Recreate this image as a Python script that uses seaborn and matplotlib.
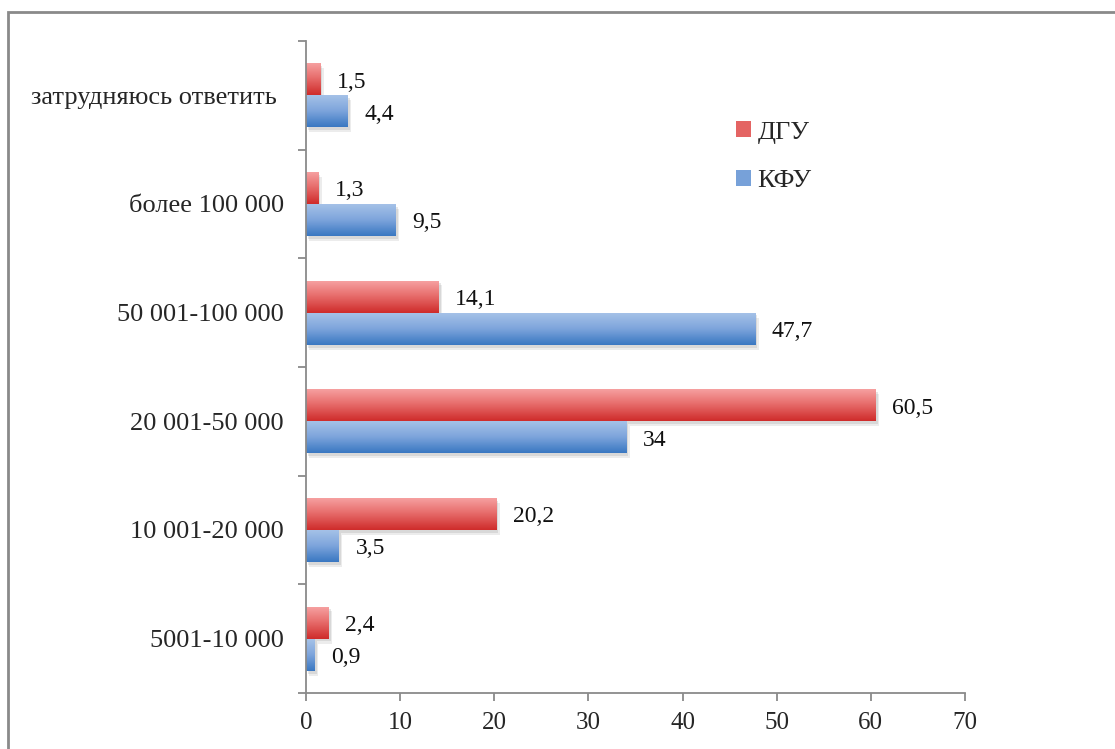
import numpy as np
import pandas as pd
import matplotlib
matplotlib.use("Agg")
import matplotlib.pyplot as plt
import matplotlib.patheffects as pe
from matplotlib.patches import Rectangle
from matplotlib.colors import LinearSegmentedColormap
import seaborn as sns

# Income groups (top to bottom) and shares per university, %
categories = ["затрудняюсь ответить ", "более 100 000", "50 001-100 000",
              "20 001-50 000", "10 001-20 000", "5001-10 000"]
dgu = [1.5, 1.3, 14.1, 60.5, 20.2, 2.4]
kfu = [4.4, 9.5, 47.7, 34, 3.5, 0.9]
series = ["ДГУ", "КФУ"]
value_labels_dgu = ["1,5", "1,3", "14,1", "60,5", "20,2", "2,4"]
value_labels_kfu = ["4,4", "9,5", "47,7", "34", "3,5", "0,9"]
xticks = [0, 10, 20, 30, 40, 50, 60, 70]

df = pd.DataFrame({
    "cat": categories * 2,
    "val": dgu + kfu,
    "uni": [series[0]] * len(categories) + [series[1]] * len(categories),
})

sns.set_theme(style="white")
plt.rcParams["font.family"] = ["Liberation Serif", "DejaVu Serif"]

fig = plt.figure(figsize=(11.15, 7.49), dpi=100)
ax = fig.add_axes([306 / 1115, 1 - 693 / 749, (965 - 306) / 1115, (693 - 41) / 749])

base = {"ДГУ": "#d9403f", "КФУ": "#4a7fc4"}
sns.barplot(data=df, y="cat", x="val", hue="uni", order=categories,
            hue_order=series, palette=base, orient="h", width=0.59,
            ax=ax, legend=False, saturation=1)

grad = {
    "ДГУ": LinearSegmentedColormap.from_list("r", ["#f7a3a3", "#e66a69", "#cf2c2b"]),
    "КФУ": LinearSegmentedColormap.from_list("b", ["#a7c3e8", "#7ea5dc", "#3a78c2"]),
}

n = len(categories)
patches = list(ax.patches)
gradient = np.linspace(0, 1, 64).reshape(-1, 1)
for i, p in enumerate(patches):
    uni = series[i // n]
    p.set_edgecolor("none")
    p.set_path_effects([
        pe.SimplePatchShadow(offset=(2.5, -3.5), shadow_rgbFace="#999999", alpha=0.18),
        pe.SimplePatchShadow(offset=(1.5, -2), shadow_rgbFace="#888888", alpha=0.2),
        pe.Normal()])
    x0, y0, w, h = p.get_x(), p.get_y(), p.get_width(), p.get_height()
    im = ax.imshow(gradient, cmap=grad[uni], aspect="auto",
                   extent=(x0, x0 + w, y0 + h, y0), origin="upper",
                   zorder=p.get_zorder() + 0.1)
    im.set_clip_path(p)

ax.set_xlim(0, 70)
ax.set_ylim(n - 0.5, -0.5)

# value labels to the right of each bar
for i, p in enumerate(patches):
    txt = (value_labels_dgu + value_labels_kfu)[i]
    ax.annotate(txt, (p.get_x() + p.get_width(), p.get_y() + p.get_height() / 2),
                xytext=(12, -2), textcoords="offset points", ha="left", va="center",
                fontsize=17, color="#111111")

# axes styling
for s in ["top", "right"]:
    ax.spines[s].set_visible(False)
for s in ["left", "bottom"]:
    ax.spines[s].set_color("#8a8a8a")
    ax.spines[s].set_linewidth(1.3)

ax.set_xticks(xticks)
ax.set_xticklabels([str(t) for t in xticks], fontsize=18)
ax.set_yticks(np.arange(n))
ax.set_yticklabels(categories, fontsize=19)
ax.tick_params(axis="y", which="major", left=False, length=0, pad=16)
ax.set_yticks(np.arange(-0.5, n, 1), minor=True)
ax.tick_params(axis="y", which="minor", left=True, length=6, color="#8a8a8a",
               width=1.3, direction="out")
ax.tick_params(axis="x", bottom=True, length=6, color="#8a8a8a", width=1.3,
               direction="out", pad=8)
ax.set_xlabel("")
ax.set_ylabel("")
ax.grid(False)

# legend
handles = [Rectangle((0, 0), 1, 1, facecolor=grad[s](0.55), edgecolor="none") for s in series]
ax.legend(handles, series, loc="upper left", bbox_to_anchor=(0.617, 0.913),
          frameon=False, fontsize=19, handlelength=0.55, handleheight=0.55,
          handletextpad=0.25, labelspacing=1.0)

# outer frame
fig.patches.append(Rectangle((8 / 1115, -0.05), 1.2, 1 - 12 / 749 + 0.05,
                             transform=fig.transFigure, fill=False,
                             edgecolor="#8a8a8a", linewidth=2))

fig.savefig("out.png", dpi=100)
